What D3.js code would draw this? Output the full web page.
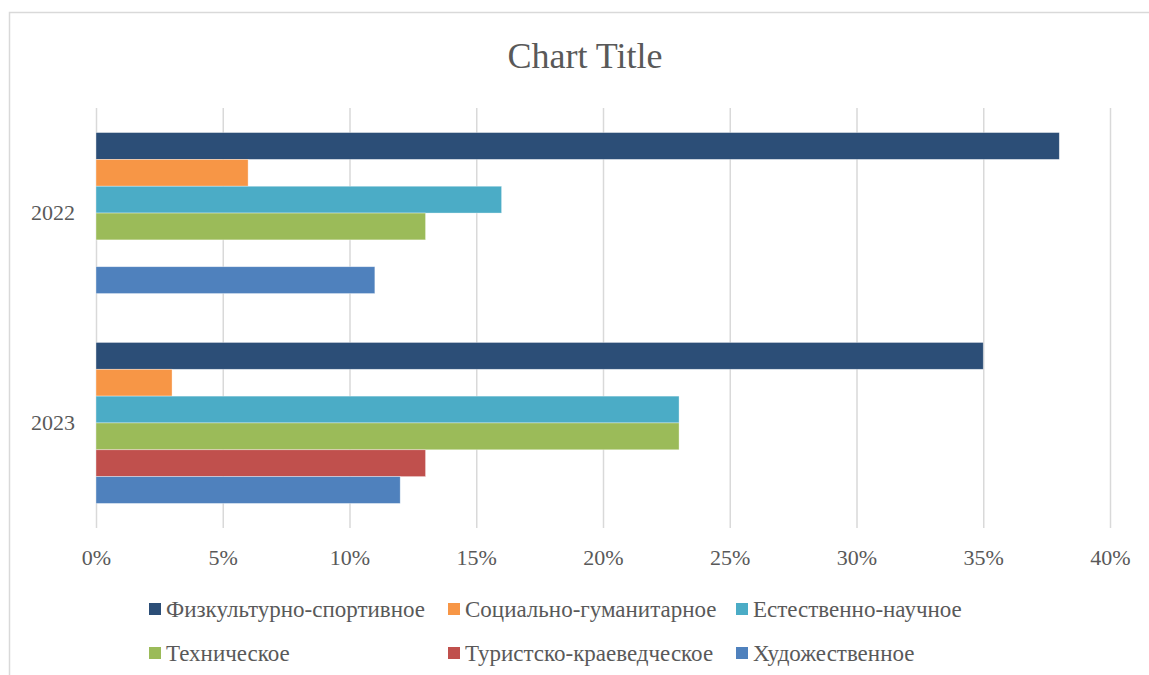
<!DOCTYPE html>
<html>
<head>
<meta charset="utf-8">
<script src="https://cdn.jsdelivr.net/npm/d3@7"></script>
<style>
  body { margin: 0; background: #fff; }
  svg { display: block; }
  svg text { font-family: "Liberation Serif", "Tinos", "Times New Roman", "DejaVu Serif", serif; }
</style>
</head>
<body>
<div id="chart"></div>
<script>
// data
const categories = ["2022", "2023"];
const seriesNames = [
  "Физкультурно-спортивное",
  "Социально-гуманитарное",
  "Естественно-научное",
  "Техническое",
  "Туристско-краеведческое",
  "Художественное"
];
const values2022 = [38, 6, 16, 13, null, 11];
const values2023 = [35, 3, 23, 23, 13, 12];
const xTicks = [0, 5, 10, 15, 20, 25, 30, 35, 40];
const seriesColors = ["#2c4e77", "#f79646", "#4bacc6", "#9bbb59", "#c0504d", "#4f81bd"];

const width = 1149, height = 675;
const margin = { top: 108, bottom: 147, left: 96, right: 39 };
const textColor = "#595959";

const table = categories.map((c, i) => ({
  category: c,
  values: seriesNames.map((s, j) => ({ series: s, idx: j, value: (i === 0 ? values2022 : values2023)[j] }))
}));

const svg = d3.select("#chart").append("svg")
  .attr("width", width)
  .attr("height", height);

// outer chart border
svg.append("rect")
  .attr("x", 9.5).attr("y", 12.5)
  .attr("width", width + 20).attr("height", height + 20)
  .attr("fill", "none")
  .attr("stroke", "#d9d9d9")
  .attr("stroke-width", 1.5);

// title
svg.append("text")
  .text("Chart Title")
  .attr("x", 585)
  .attr("y", 68)
  .attr("text-anchor", "middle")
  .attr("font-size", "36px")
  .attr("fill", textColor);

let xScale = d3.scaleLinear()
  .domain([0, 40])
  .range([margin.left, width - margin.right]);

let yScale = d3.scaleBand()
  .domain(categories)
  .range([margin.top, height - margin.bottom])
  .paddingInner(0.233)
  .paddingOuter(0.117);

let ySub = d3.scaleBand()
  .domain(d3.range(seriesNames.length))
  .range([0, yScale.bandwidth()]);

// gridlines
let grid = svg.append("g")
  .attr("transform", `translate(0, ${height - margin.bottom})`)
  .call(d3.axisBottom(xScale).tickValues(xTicks).tickSize(-(height - margin.top - margin.bottom)).tickFormat(""));
grid.select(".domain").remove();
grid.selectAll("line").attr("stroke", "#d9d9d9").attr("stroke-width", 1.5);

// x tick labels
let xAxis = svg.append("g")
  .attr("transform", `translate(0, ${height - margin.bottom})`)
  .call(d3.axisBottom(xScale).tickValues(xTicks).tickSize(0).tickPadding(21).tickFormat(d => d + "%"));
xAxis.select(".domain").remove();
xAxis.attr("font-family", null);
xAxis.selectAll("text")
  .attr("font-size", "22px")
  .attr("fill", textColor);

// category labels
let yAxis = svg.append("g")
  .attr("transform", `translate(${margin.left}, 0)`)
  .call(d3.axisLeft(yScale).tickSize(0).tickPadding(21));
yAxis.select(".domain").remove();
yAxis.attr("font-family", null);
yAxis.selectAll("text")
  .attr("font-size", "22px")
  .attr("fill", textColor);

// bars
let groups = svg.selectAll("g.cat")
  .data(table)
  .enter()
  .append("g")
  .attr("class", "cat")
  .attr("transform", d => `translate(0, ${yScale(d.category)})`);

groups.selectAll("rect")
  .data(d => d.values.filter(v => v.value != null))
  .enter()
  .append("rect")
  .attr("x", xScale(0))
  .attr("y", d => ySub(d.idx))
  .attr("width", d => xScale(d.value) - xScale(0))
  .attr("height", ySub.bandwidth())
  .attr("fill", d => seriesColors[d.idx])
  .attr("stroke", "#ffffff")
  .attr("stroke-opacity", 0.5)
  .attr("stroke-width", 0.7);

// legend
const legendCols = [149, 448, 736];
const legendRows = [609, 653];
let legend = svg.selectAll("g.legend")
  .data(seriesNames)
  .enter()
  .append("g")
  .attr("class", "legend")
  .attr("transform", (d, i) => `translate(${legendCols[i % 3]}, ${legendRows[Math.floor(i / 3)]})`);

legend.append("rect")
  .attr("x", 0).attr("y", -6)
  .attr("width", 12).attr("height", 12)
  .attr("fill", (d, i) => seriesColors[i]);

legend.append("text")
  .text(d => d)
  .attr("x", 17)
  .attr("y", 8)
  .attr("font-size", "23px")
  .attr("fill", textColor);
</script>
</body>
</html>
